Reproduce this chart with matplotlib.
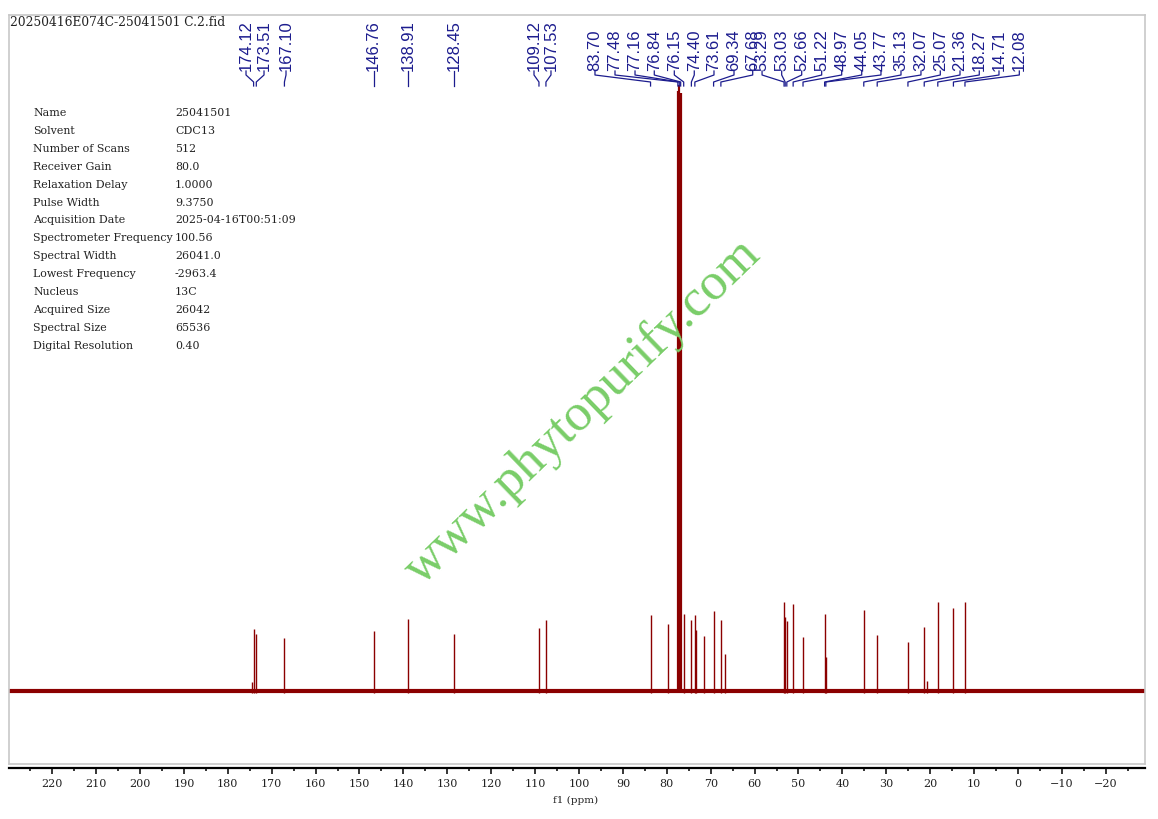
import numpy as np
import matplotlib.pyplot as plt

W, H = 1158, 820

# spectrum peaks (ppm) and heights above the baseline
peak_ppm = [174.40, 174.12, 173.51, 167.10, 146.76, 138.91, 128.45, 109.12, 107.53,
            83.70, 79.70, 77.48, 77.16, 76.84, 76.15, 74.40, 73.61, 73.35, 71.60,
            69.34, 67.68, 66.80, 53.29, 53.03, 52.66, 51.22, 48.97, 44.05, 43.77,
            35.13, 32.07, 25.07, 21.36, 20.80, 18.27, 14.71, 12.08]
peak_int = [9, 62, 57, 53, 60, 72, 57, 63, 71,
            76, 67, 600, 606, 598, 77, 71, 76, 61, 55,
            80, 71, 37, 89, 74, 70, 87, 54, 77, 34,
            81, 56, 49, 64, 10, 89, 83, 89]

# peak labels and where the label text sits (ppm)
labels = [174.12, 173.51, 167.10, 146.76, 138.91, 128.45, 109.12, 107.53,
          83.70, 77.48, 77.16, 76.84, 76.15, 74.40, 73.61, 69.34, 67.68,
          53.29, 53.03, 52.66, 51.22, 48.97, 44.05, 43.77, 35.13, 32.07,
          25.07, 21.36, 18.27, 14.71, 12.08]
label_at = [175.85, 171.75, 166.74, 146.76, 138.91, 128.45, 110.25, 106.38,
            96.36, 91.80, 87.24, 82.85, 78.29, 73.74, 69.25, 64.69, 60.43,
            58.30, 53.83, 49.27, 44.72, 40.16, 35.60, 31.21, 26.65, 22.10,
            17.70, 13.21, 8.82, 4.33, -0.30]

params = [("Name", "25041501"), ("Solvent", "CDC13"), ("Number of Scans", "512"),
          ("Receiver Gain", "80.0"), ("Relaxation Delay", "1.0000"),
          ("Pulse Width", "9.3750"), ("Acquisition Date", "2025-04-16T00:51:09"),
          ("Spectrometer Frequency", "100.56"), ("Spectral Width", "26041.0"),
          ("Lowest Frequency", "-2963.4"), ("Nucleus", "13C"),
          ("Acquired Size", "26042"), ("Spectral Size", "65536"),
          ("Digital Resolution", "0.40")]

xlim = (229.84, -28.93)

fig = plt.figure(figsize=(W / 100, H / 100), dpi=100)

def fy(y):
    return 1 - y / H

ax = fig.add_axes([9 / W, fy(765), 1136 / W, (765 - 16) / H])
ax.set_xlim(*xlim)
ax.set_ylim(-73, 676)
ax.set_xticks([])
ax.set_yticks([])
for s in ax.spines.values():
    s.set_color('#c8c8c8')
    s.set_linewidth(1.2)

red = '#8b0000'
ax.plot(xlim, [0, 0], color=red, lw=3.0, solid_capstyle='butt')
lw = [1.6 if h > 300 else 1.0 for h in peak_int]
ax.vlines(peak_ppm, -2, peak_int, color=red, lw=lw)

# x axis below the frame
ax2 = fig.add_axes([9 / W, fy(769), 1136 / W, 0.001])
ax2.set_xlim(*xlim)
ax2.set_yticks([])
for k in ['top', 'left', 'right']:
    ax2.spines[k].set_visible(False)
ax2.spines['bottom'].set_linewidth(1.6)
ax2.patch.set_visible(False)
ax2.set_xticks(np.arange(-20, 221, 10))
ax2.set_xticks(np.arange(-25, 230, 5), minor=True)
ax2.tick_params(axis='x', which='major', length=4.5, width=1.1, pad=3,
                labelsize=8, labelcolor='#222222')
ax2.tick_params(axis='x', which='minor', length=2.5, width=1.1)
for t in ax2.get_xticklabels():
    t.set_family('DejaVu Serif')
fig.text(576 / W, fy(800), "f1 (ppm)", ha='center', va='center',
         fontsize=7.5, family='DejaVu Serif', color='#222222')

# peak labels with connector lines
tr = ax.get_xaxis_transform()
def ay(y):
    return (765 - y) / (765 - 16)
blue = '#1c1c8e'
for lab, lx in zip(labels, label_at):
    ax.text(lx, ay(71), f"{lab:.2f}", rotation=90, ha='center', va='bottom',
            fontsize=12, family='Liberation Sans', color=blue, transform=tr)
    ax.plot([lx, lx, lab, lab], [ay(72), ay(76), ay(83), ay(87)],
            color=blue, lw=0.9, transform=tr, clip_on=False)

# header and acquisition parameters
fig.text(10 / W, fy(22), "20250416E074C-25041501 C.2.fid", ha='left', va='center',
         fontsize=8.8, family='DejaVu Serif', color='#222222')
for i, (k, v) in enumerate(params):
    y = fy(113 + i * 17.9)
    fig.text(33 / W, y, k, ha='left', va='center', fontsize=7.9,
             family='DejaVu Serif', color='#222222')
    fig.text(175 / W, y, v, ha='left', va='center', fontsize=7.9,
             family='DejaVu Serif', color='#222222')

# watermark
fig.text(583 / W, fy(412), "www.phytopurify.com", rotation=44, rotation_mode='anchor',
         ha='center', va='center', fontsize=38, family='Liberation Serif',
         color='#79cd68')

fig.savefig("out.png", dpi=100)
